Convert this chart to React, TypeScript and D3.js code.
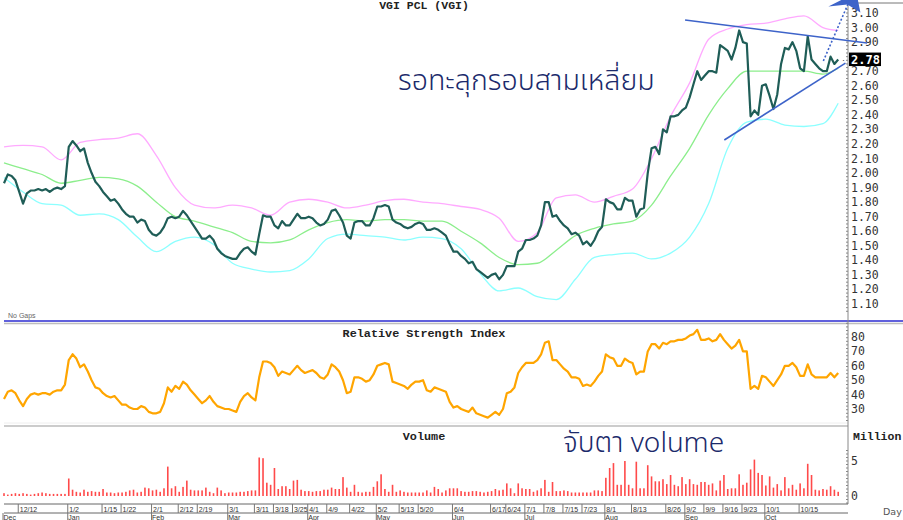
import * as d3 from 'd3';

// trading-day series (one value per session)
const closes = [
  1.93, 1.99, 1.98, 1.95, 1.87, 1.79, 1.86, 1.88, 1.88, 1.89,
  1.88, 1.89, 1.87, 1.89, 1.90, 1.89, 1.91, 2.18, 2.22, 2.19,
  2.15, 2.17, 2.07, 2.00, 1.94, 1.91, 1.87, 1.84, 1.81, 1.82,
  1.79, 1.75, 1.72, 1.70, 1.70, 1.66, 1.68, 1.67, 1.61, 1.58,
  1.57, 1.59, 1.63, 1.69, 1.70, 1.69, 1.70, 1.74, 1.71, 1.67,
  1.63, 1.59, 1.55, 1.55, 1.57, 1.54, 1.48, 1.45, 1.43, 1.42,
  1.41, 1.41, 1.45, 1.48, 1.49, 1.46, 1.44, 1.58, 1.71, 1.70,
  1.70, 1.64, 1.62, 1.67, 1.64, 1.64, 1.68, 1.72, 1.69, 1.69,
  1.70, 1.69, 1.66, 1.64, 1.65, 1.68, 1.74, 1.75, 1.71, 1.66,
  1.57, 1.55, 1.66, 1.67, 1.67, 1.64, 1.64, 1.69, 1.77, 1.77,
  1.78, 1.77, 1.68, 1.66, 1.65, 1.63, 1.62, 1.63, 1.65, 1.66,
  1.65, 1.61, 1.61, 1.62, 1.61, 1.59, 1.57, 1.51, 1.46, 1.46,
  1.43, 1.41, 1.38, 1.39, 1.34, 1.32, 1.30, 1.28, 1.30, 1.31,
  1.27, 1.30, 1.36, 1.36, 1.36, 1.46, 1.48, 1.54, 1.54, 1.55,
  1.57, 1.64, 1.80, 1.80, 1.70, 1.71, 1.67, 1.64, 1.62, 1.58,
  1.59, 1.57, 1.51, 1.53, 1.50, 1.54, 1.60, 1.63, 1.82, 1.80,
  1.79, 1.75, 1.75, 1.83, 1.81, 1.81, 1.70, 1.75, 1.76, 2.00,
  2.17, 2.18, 2.13, 2.30, 2.28, 2.39, 2.39, 2.40, 2.43, 2.45,
  2.52, 2.61, 2.70, 2.64, 2.67, 2.70, 2.70, 2.69, 2.88, 2.86,
  2.84, 2.78, 2.86, 2.98, 2.90, 2.89, 2.39, 2.43, 2.40, 2.60,
  2.61, 2.53, 2.44, 2.54, 2.75, 2.86, 2.85, 2.90, 2.84, 2.72,
  2.70, 2.94, 2.78, 2.75, 2.72, 2.70, 2.70, 2.80, 2.75, 2.78,
];

const rsi = [
  37, 42, 43, 41, 36, 32, 37, 40, 41, 40,
  41, 41, 40, 42, 43, 43, 47, 64, 68, 65,
  59, 61, 56, 50, 45, 44, 41, 39, 38, 39,
  36, 33, 33, 31, 30, 30, 32, 31, 28, 27,
  27, 28, 34, 45, 42, 46, 44, 49, 47, 43,
  40, 37, 34, 36, 39, 35, 32, 31, 30, 30,
  29, 28, 35, 39, 41, 38, 36, 52, 63, 63,
  62, 59, 53, 56, 55, 54, 57, 60, 57, 55,
  56, 57, 55, 52, 51, 54, 61, 59, 56, 50,
  41, 42, 52, 52, 51, 49, 50, 54, 60, 61,
  62, 61, 49, 48, 47, 46, 44, 47, 49, 49,
  50, 43, 42, 45, 44, 43, 42, 35, 31, 32,
  30, 29, 28, 31, 27, 26, 25, 24, 26, 28,
  26, 30, 41, 42, 45, 55, 59, 62, 62, 62,
  64, 68, 76, 77, 64, 64, 61, 58, 56, 52,
  52, 51, 46, 47, 46, 49, 53, 56, 68, 66,
  65, 60, 60, 65, 63, 62, 54, 56, 56, 70,
  75, 75, 72, 76, 75, 77, 77, 78, 78, 79,
  81, 82, 85, 78, 78, 79, 77, 78, 82, 78,
  75, 72, 74, 78, 70, 70, 44, 46, 44, 53,
  52, 49, 46, 50, 54, 60, 60, 62, 59, 53,
  53, 61, 54, 52, 52, 52, 52, 55, 52, 55,
];

// millions of shares
const volume = [
  0.4, 0.2, 0.3, 0.4, 0.3, 0.4, 0.3, 0.2, 0.3, 0.4,
  0.5, 0.4, 0.3, 0.3, 0.3, 0.3, 0.3, 2.5, 0.9, 0.6,
  0.5, 0.9, 0.6, 0.7, 0.6, 0.6, 1.0, 0.5, 0.5, 0.4,
  0.5, 0.5, 0.6, 0.8, 0.9, 0.5, 0.6, 1.2, 1.1, 0.8,
  0.9, 0.6, 1.1, 4.2, 1.1, 1.4, 0.6, 1.3, 2.2, 0.9,
  0.8, 0.8, 0.8, 1.2, 0.6, 0.4, 1.2, 0.8, 0.4, 0.5,
  0.5, 0.5, 0.6, 0.6, 0.7, 0.8, 0.8, 5.5, 5.4, 1.9,
  1.6, 4.0, 1.0, 1.4, 1.4, 1.0, 2.2, 2.3, 0.9, 0.7,
  0.7, 0.6, 0.7, 0.7, 0.9, 0.9, 1.2, 1.0, 1.0, 2.7,
  1.2, 0.6, 1.6, 0.6, 0.5, 0.6, 0.6, 1.3, 2.1, 3.1,
  1.0, 0.6, 1.6, 0.6, 0.8, 0.6, 0.5, 0.5, 0.5, 0.5,
  0.5, 0.8, 0.5, 1.3, 1.0, 0.5, 0.8, 1.1, 1.1, 1.1,
  0.7, 0.6, 0.6, 0.7, 0.7, 0.6, 0.5, 0.6, 0.7, 1.0,
  0.8, 0.9, 1.8, 1.1, 0.4, 1.8, 1.1, 1.0, 1.0, 0.6,
  0.8, 1.1, 2.3, 0.6, 2.0, 0.7, 0.7, 0.8, 0.7, 0.5,
  0.5, 0.5, 0.5, 0.5, 0.5, 0.8, 0.8, 0.7, 2.6, 4.0,
  4.7, 1.6, 1.6, 5.0, 1.6, 1.1, 4.9, 1.1, 1.1, 4.4,
  2.8, 2.1, 2.1, 2.4, 1.7, 3.0, 1.6, 1.4, 2.7, 1.7,
  2.4, 1.7, 1.6, 2.0, 2.0, 1.6, 1.8, 0.8, 2.2, 3.0,
  1.0, 1.1, 1.1, 3.1, 1.6, 1.9, 3.8, 5.2, 3.3, 3.0,
  1.5, 2.8, 1.2, 1.7, 0.8, 2.7, 1.1, 1.6, 0.9, 1.8,
  1.1, 4.6, 3.0, 0.9, 0.8, 1.0, 0.9, 1.4, 0.9, 0.6,
];

// bollinger bands, read every 5th session
const bandIdx = [
  0, 5, 10, 15, 20, 25, 30, 35, 40, 45, 50, 55, 60, 65, 70, 75, 80, 85, 90, 95, 100, 105,
  110, 115, 120, 125, 130, 135, 140, 145, 150, 155, 160, 165, 170, 175, 180, 185, 190,
  195, 200, 205, 210, 215, 219,
];
const bandUpper = [
  2.18, 2.19, 2.18, 2.09, 2.21, 2.23, 2.24, 2.27, 2.12, 1.90, 1.78, 1.76, 1.78, 1.76, 1.71,
  1.80, 1.82, 1.80, 1.76, 1.78, 1.81, 1.82, 1.80, 1.79, 1.77, 1.75, 1.69, 1.53, 1.59, 1.83,
  1.85, 1.80, 1.84, 1.89, 2.10, 2.39, 2.62, 2.92, 2.99, 3.02, 3.03, 3.06, 3.08, 3.00, 2.98,
];
const bandMid = [
  2.07, 2.03, 1.99, 1.93, 1.95, 1.97, 1.96, 1.91, 1.80, 1.70, 1.67, 1.63, 1.59, 1.53, 1.52,
  1.54, 1.61, 1.66, 1.68, 1.67, 1.68, 1.68, 1.67, 1.67, 1.60, 1.52, 1.42, 1.37, 1.38, 1.47,
  1.57, 1.62, 1.65, 1.67, 1.78, 1.98, 2.17, 2.40, 2.58, 2.70, 2.70, 2.70, 2.70, 2.68, 2.72,
];
const bandLower = [
  1.97, 1.87, 1.79, 1.78, 1.71, 1.72, 1.68, 1.56, 1.46, 1.53, 1.56, 1.51, 1.38, 1.34, 1.32,
  1.33, 1.41, 1.55, 1.58, 1.57, 1.56, 1.54, 1.56, 1.55, 1.48, 1.31, 1.19, 1.21, 1.15, 1.13,
  1.27, 1.42, 1.44, 1.45, 1.41, 1.45, 1.56, 1.79, 2.17, 2.35, 2.37, 2.33, 2.32, 2.34, 2.48,
];

const dateTickIdx = [
  4, 17, 26, 31, 39, 46, 51, 59, 66, 71, 76, 80, 85, 91, 98, 104, 109, 118, 128, 132, 137,
  142, 147, 152, 158, 165, 174, 179, 184, 189, 194, 200, 209,
];
const dateTickLabels = [
  '12/12', '1/2', '1/15', '1/22', '2/1', '2/12', '2/19', '3/1', '3/11', '3/18', '3/25',
  '4/1', '4/9', '4/22', '5/2', '5/13', '5/20', '6/4', '6/17', '6/24', '7/1', '7/8', '7/15',
  '7/23', '8/1', '8/13', '8/26', '9/2', '9/9', '9/16', '9/23', '10/1', '10/15',
];
const monthIdx = [0, 17, 39, 59, 80, 98, 118, 137, 158, 179, 200];
const monthLabels = ['Dec', 'Jan', 'Feb', 'Mar', 'Apr', 'May', 'Jun', 'Jul', 'Aug', 'Sep', 'Oct'];

const priceTicks = [3.1, 3.0, 2.9, 2.8, 2.7, 2.6, 2.5, 2.4, 2.3, 2.2, 2.1, 2.0, 1.9, 1.8, 1.7, 1.6, 1.5, 1.4, 1.3, 1.2, 1.1];
const rsiTicks = [80, 70, 60, 50, 40, 30];
const volTicks = [5, 0];

// hand-drawn triangle (session index, price)
const upperTrend = [[178.8, 3.052], [226.6, 2.894]];
const lowerTrend = [[189.1, 2.227], [220.9, 2.756]];
const breakoutArrow = [[215.1, 2.77], [222.2, 3.2]];

const W = 903;
const H = 520;
const axisX = 848;
const mono = '"Liberation Mono", "DejaVu Sans Mono", monospace';
const thai = '"Noto Sans Thai", "Noto Sans", "DejaVu Sans", sans-serif';

export default function App() {
  const x = d3.scaleLinear().domain([0, closes.length - 1]).range([4, 838.2]);
  const yP = d3.scaleLinear().domain([1.1, 3.1]).range([304, 13]);
  const yR = d3.scaleLinear().domain([30, 80]).range([409, 337]);
  const yV = d3.scaleLinear().domain([0, 5]).range([496, 461]);

  const closeLine = d3.line<number>().x((_, i) => x(i)).y(d => yP(d));
  const rsiLine = d3.line<number>().x((_, i) => x(i)).y(d => yR(d));
  const band = (vals: number[]) =>
    d3.line<number>().x((_, i) => x(bandIdx[i])).y(d => yP(d)).curve(d3.curveMonotoneX)(vals) || '';
  const seg = d3.line<number[]>().x(d => x(d[0])).y(d => yP(d[1]));

  const minorPrice = d3.range(1.05, 3.126, 0.025);
  const minorRsi = d3.range(22, 90, 2.5);
  const minorVol = d3.range(-1, 7, 0.5);

  const last = closes[closes.length - 1];
  // the tick label hidden under the last-price box is not drawn
  const shownPriceTicks = priceTicks.filter(p => Math.abs(yP(p) - yP(last)) > 6);
  const arrowTip = breakoutArrow[1];
  const ax = x(arrowTip[0]);
  const ay = yP(arrowTip[1]);

  return (
    <svg width={W} height={H} style={{ position: 'absolute', left: 0, top: 0, background: '#fff' }}>
      <defs>
        <clipPath id="clipAll">
          <rect x={0} y={0} width={W} height={H} />
        </clipPath>
      </defs>

      {/* titles */}
      <text x={424} y={9} textAnchor="middle" fontFamily={mono} fontWeight="bold" fontSize={11.5} fill="#222">
        VGI PCL (VGI)
      </text>
      <text x={424} y={337} textAnchor="middle" fontFamily={mono} fontWeight="bold" fontSize={11.8} fill="#222">
        Relative Strength Index
      </text>
      <text x={424} y={440} textAnchor="middle" fontFamily={mono} fontWeight="bold" fontSize={11.8} fill="#222">
        Volume
      </text>

      {/* bollinger bands */}
      <path d={band(bandUpper)} fill="none" stroke="#ffaaff" strokeWidth={1.3} />
      <path d={band(bandMid)} fill="none" stroke="#8cee8c" strokeWidth={1.3} />
      <path d={band(bandLower)} fill="none" stroke="#8cffff" strokeWidth={1.3} />

      {/* close */}
      <path d={closeLine(closes) || ''} fill="none" stroke="#1f5d57" strokeWidth={2.2} strokeLinejoin="round" />

      {/* panel separators */}
      <line x1={4} x2={W} y1={321} y2={321} stroke="#2b2bd0" strokeWidth={1.5} />
      <line x1={4} x2={W} y1={323.5} y2={323.5} stroke="#bdbdbd" strokeWidth={1.5} />
      <line x1={4} x2={axisX} y1={423} y2={423} stroke="#eeeeee" strokeWidth={1} />
      <line x1={4} x2={axisX} y1={426} y2={426} stroke="#999" strokeWidth={1.2} />
      <line x1={850} x2={W} y1={3} y2={3} stroke="#777" strokeWidth={1} />
      <text x={8} y={318} fontFamily='"Liberation Sans", Arial, sans-serif' fontSize={7} fill="#666">
        No Gaps
      </text>

      {/* rsi */}
      <path d={rsiLine(rsi) || ''} fill="none" stroke="#ffa500" strokeWidth={2.2} strokeLinejoin="round" />

      {/* volume */}
      {volume.map((v, i) => (
        <rect key={i} x={x(i) - 0.8} y={yV(v)} width={1.6} height={yV(0) - yV(v)} fill="#ff4a4a" />
      ))}

      {/* right axis */}
      <line x1={axisX} x2={axisX} y1={3} y2={504} stroke="#888" strokeWidth={1} />
      {minorPrice.map((p, i) => (
        <line key={'mp' + i} x1={axisX - 2} x2={axisX} y1={yP(p)} y2={yP(p)} stroke="#888" />
      ))}
      {minorRsi.map((r, i) => (
        <line key={'mr' + i} x1={axisX - 2} x2={axisX} y1={yR(r)} y2={yR(r)} stroke="#888" />
      ))}
      {minorVol.map((v, i) => (
        <line key={'mv' + i} x1={axisX - 2} x2={axisX} y1={yV(v)} y2={yV(v)} stroke="#888" />
      ))}
      {shownPriceTicks.map(p => (
        <text key={'p' + p} x={851} y={yP(p) + 4} fontFamily='"DejaVu Sans Mono", monospace' fontSize={11.5} fill="#333">
          {p.toFixed(2)}
        </text>
      ))}
      {rsiTicks.map(r => (
        <text key={'r' + r} x={851} y={yR(r) + 4} fontFamily='"DejaVu Sans Mono", monospace' fontSize={11.5} fill="#333">
          {r}
        </text>
      ))}
      {volTicks.map(v => (
        <text key={'v' + v} x={851} y={yV(v) + 4} fontFamily='"DejaVu Sans Mono", monospace' fontSize={11.5} fill="#333">
          {v}
        </text>
      ))}
      <text x={853} y={440} fontFamily={mono} fontWeight="bold" fontSize={11.5} fill="#222">
        Million
      </text>
      <text x={883} y={515} fontFamily='"DejaVu Sans", sans-serif' fontSize={9.5} fill="#555">
        Day
      </text>

      {/* last price marker */}
      <text x={842} y={yP(last) + 3} fontSize={9} fill="#333" fontFamily="sans-serif">·</text>
      <rect x={849} y={yP(last) - 7} width={32} height={13.5} fill="#000" />
      <text
        x={851}
        y={yP(last) + 4.2}
        fontFamily='"DejaVu Sans Mono", monospace'
        fontWeight="bold"
        fontSize={12}
        fill="#fff"
      >
        {last.toFixed(2)}
      </text>

      {/* date axis */}
      <line x1={4} x2={axisX} y1={504} y2={504} stroke="#666" />
      <line x1={4} x2={axisX} y1={513} y2={513} stroke="#666" />
      {dateTickIdx.map((d, i) => (
        <g key={'d' + i}>
          <line x1={x(d) - 1} x2={x(d) - 1} y1={504} y2={513} stroke="#777" />
          <text x={x(d) + 0.5} y={511.5} fontFamily='"Liberation Sans Narrow", "Liberation Sans", Arial, sans-serif' fontSize={7} fill="#333">
            {dateTickLabels[i]}
          </text>
        </g>
      ))}
      {monthIdx.map((m, i) => (
        <g key={'m' + i}>
          <line x1={x(m) - 1} x2={x(m) - 1} y1={513} y2={520} stroke="#777" />
          <text x={x(m) - 0.5} y={519.5} fontFamily='"Liberation Sans", Arial, sans-serif' fontSize={7} fill="#333">
            {monthLabels[i]}
          </text>
        </g>
      ))}

      {/* annotations */}
      <g clipPath="url(#clipAll)">
        <path d={seg(upperTrend) || ''} stroke="#3d63c9" strokeWidth={1.6} fill="none" />
        <path d={seg(lowerTrend) || ''} stroke="#3d63c9" strokeWidth={1.6} fill="none" />
        <path d={seg(breakoutArrow) || ''} stroke="#3d63c9" strokeWidth={1.6} strokeDasharray="2,2" fill="none" />
        <path
          d={`M${ax + 6},${ay - 6} L${ax - 22},${ay + 8} L${ax - 3},${ay + 6} L${ax + 10},${ay + 14} Z`}
          fill="#3d63c9"
        />
      </g>
      <text x={398} y={90} fontFamily={thai} fontWeight={300} fontSize={28.5} fill="#1b2a6b">
        รอทะลุกรอบสามเหลี่ยม
      </text>
      <text x={563} y={452} fontFamily={thai} fontWeight={300} fontSize={28} fill="#1b2a6b">
        จับตา volume
      </text>
    </svg>
  );
}
